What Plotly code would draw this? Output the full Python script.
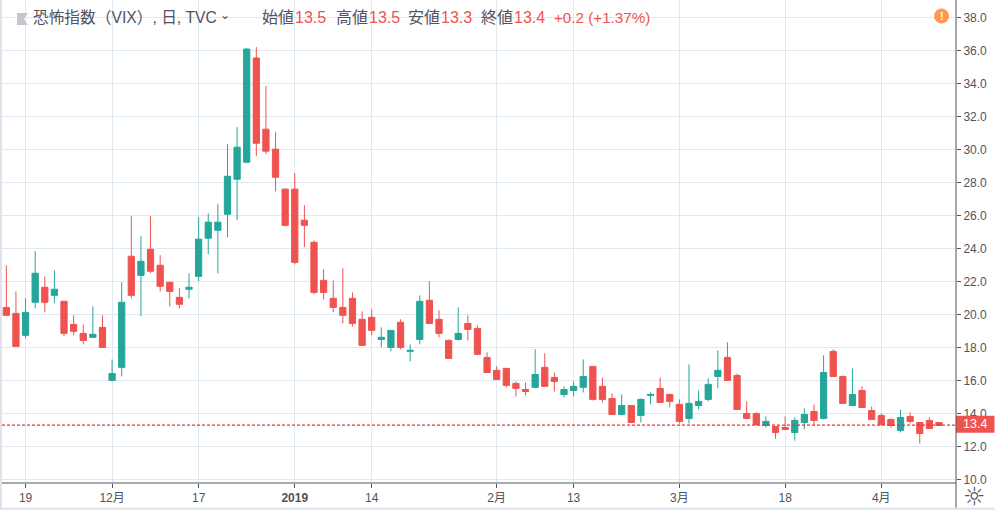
import plotly.graph_objects as go

bar_index = list(range(98))
opens = [20.44,20.08,18.75,20.75,21.66,21.17,20.81,19.41,18.87,18.63,19.23,16.02,16.81,23.54,22.38,23.96,22.99,21.96,21.05,21.54,
         22.32,24.63,25.11,26.08,28.2,29.23,35.54,31.23,30.02,27.6,27.6,25.72,24.38,22.08,20.99,20.44,20.99,19.72,19.84,18.5,
         18.02,19.54,17.78,18.5,20.87,19.72,18.44,18.5,19.47,19.17,17.41,16.63,16.75,15.84,15.47,15.6,16.81,16.2,15.17,15.41,
         15.6,16.87,15.66,14.93,13.96,14.5,13.9,15.11,15.54,15.17,14.57,13.72,14.5,14.87,16.26,17.41,16.32,14.02,14.02,13.29,
         13.23,13.17,12.87,13.47,14.14,13.72,17.78,16.26,14.5,15.41,14.2,13.9,13.66,12.99,13.84,13.47,13.6,13.47]
highs = [22.99,21.41,20.99,23.84,22.32,22.69,20.81,19.96,19.41,20.5,19.96,17.29,21.96,25.96,24.75,25.96,23.6,21.96,21.6,22.5,
         25.9,26.14,26.69,30.32,31.35,36.14,36.2,33.84,31.05,27.66,28.57,26.63,24.5,22.75,22.08,22.81,21.35,20.2,20.32,19.23,
         19.05,19.72,18.2,21.17,22.02,20.26,18.5,20.44,19.96,19.35,17.72,16.87,16.75,15.96,15.9,17.9,17.66,16.5,15.66,15.96,
         17.29,16.87,16.2,15.23,15.17,14.5,14.93,15.29,16.2,15.23,14.87,16.99,15.41,16.14,17.84,18.32,16.44,14.75,14.08,13.84,
         13.23,13.84,13.78,14.32,14.57,17.54,17.9,16.32,16.75,15.66,14.44,14.02,13.72,14.26,14.08,13.47,13.78,13.47]
lows = [19.96,18.08,18.57,20.38,20.14,20.69,18.69,18.75,18.2,18.63,18.02,15.96,16.26,20.99,19.9,22.5,21.41,20.5,20.38,20.99,
        22.02,23.66,22.5,24.69,25.72,29.17,29.6,29.72,27.47,25.35,23.05,24.08,21.23,20.93,20.14,19.47,19.29,18.14,18.75,18.02,
        17.78,17.9,17.17,18.2,19.47,18.63,17.35,18.44,18.44,17.54,16.5,16.08,15.6,15.05,15.11,15.54,15.66,15.35,14.99,15.05,
        15.29,14.81,14.69,13.96,13.9,13.47,13.47,14.57,14.69,14.38,13.41,13.41,14.26,14.75,15.54,16.02,14.26,13.66,13.29,13.17,
        12.5,13.05,12.38,13.05,13.29,13.66,16.26,14.63,14.5,14.38,13.66,13.29,13.17,12.87,13.41,12.2,13.11,13.29]
closes = [19.96,18.08,20.14,22.51,20.75,21.54,18.87,18.99,18.44,18.81,18.02,16.44,20.75,21.17,23.23,22.63,21.72,21.41,20.63,21.66,
          24.57,25.6,25.6,28.38,30.14,36.08,30.38,29.9,28.32,25.41,23.17,25.41,21.35,21.35,20.44,19.96,19.47,18.14,19.05,18.63,
          19.05,18.02,17.84,20.81,19.47,18.87,17.35,18.87,19.11,17.6,16.5,16.08,15.72,15.54,15.35,16.38,15.66,15.96,15.47,15.66,
          16.26,14.87,14.87,13.96,14.5,13.47,14.87,15.17,14.69,14.75,13.54,14.63,14.75,15.78,16.63,16.02,14.26,13.72,13.35,13.54,
          12.87,13.05,13.6,13.96,13.6,16.5,16.26,14.63,15.17,14.38,13.66,13.35,13.29,13.78,13.54,12.81,13.11,13.29]

x_tick_pos = [2, 11, 20, 30, 38, 51, 59, 70, 81, 91]
x_tick_text = ["19", "12月", "17", "<b>2019</b>", "14", "2月", "13", "3月", "18", "4月"]
y_ticks = [10, 12, 14, 16, 18, 20, 22, 24, 26, 28, 30, 32, 34, 36, 38]
last_line = 13.31
last_label = "13.4"

W, H = 995, 510
L, R, T, B = 2, 956.5, 1, 483.3
TEAL, RED, GRID, AX = "#26a69a", "#ef5350", "#e1e9f0", "#50535e"
FONT = "Liberation Sans, Noto Sans CJK JP, Arial, sans-serif"
px = lambda v: (v - L) / (R - L)
py = lambda v: 1 - (v - T) / (B - T)

fig = go.Figure(go.Candlestick(
    x=bar_index, open=opens, high=highs, low=lows, close=closes,
    whiskerwidth=0,
    increasing=dict(line=dict(color=TEAL, width=1), fillcolor=TEAL),
    decreasing=dict(line=dict(color=RED, width=1), fillcolor=RED),
    hoverinfo="skip",
))

shapes = [
    dict(type="line", xref="paper", x0=0, x1=1, yref="y", y0=last_line, y1=last_line,
         line=dict(color="#f23030", width=1.2, dash="3px,2px")),
    dict(type="rect", xref="paper", x0=1, x1=px(995), yref="paper", y0=py(433), y1=py(416),
         fillcolor=RED, line_width=0, layer="above"),
    dict(type="line", xref="paper", x0=1, x1=1, yref="paper", y0=py(509), y1=py(0),
         line=dict(color=AX, width=1), layer="above"),
    dict(type="line", xref="paper", x0=px(0), x1=1, yref="paper", y0=0, y1=0,
         line=dict(color=AX, width=1), layer="above"),
    dict(type="rect", xref="paper", x0=px(0), x1=px(2), yref="paper", y0=py(510), y1=py(0),
         fillcolor="#e0e3eb", line_width=0, layer="above"),
    dict(type="rect", xref="paper", x0=px(0), x1=px(995), yref="paper", y0=py(510), y1=py(508),
         fillcolor="#e0e3eb", line_width=0, layer="above"),
    dict(type="path", xref="paper", yref="paper", fillcolor="#c4c7d0", line_width=0, layer="above",
         path=f"M {px(17)} {py(13)} L {px(28)} {py(13)} L {px(24)} {py(19)} L {px(28)} {py(25)} L {px(17)} {py(25)} Z"),
    dict(type="circle", xref="paper", yref="paper", x0=px(934.5), x1=px(949.5), y0=py(23.5), y1=py(8.5),
         fillcolor="#ff9850", line_width=0, layer="above"),
]

annos = []
def text(x, y, s, color=AX, size=16, anchor="left", family=FONT):
    annos.append(dict(xref="paper", yref="paper", x=px(x), y=py(y), text=s, showarrow=False,
                      xanchor=anchor, yanchor="middle", font=dict(color=color, size=size, family=family),
                      borderpad=0, borderwidth=0))

text(33, 18, "恐怖指数（VIX）, 日, TVC", size=15.7)
text(220, 15, "⌄", size=12, family="DejaVu Sans")
for x, s in [(262, "始値"), (336, "高値"), (408, "安値"), (481, "終値")]:
    text(x, 18, s)
for x, s in [(295, "13.5"), (369, "13.5"), (441, "13.3"), (514, "13.4")]:
    text(x, 18, s, color=RED)
text(554, 18, "+0.2 (+1.37%)", color=RED, size=15.2)
text(942, 16, "<b>!</b>", color="white", size=11, anchor="center")
text(975.5, 424.5, last_label, color="white", size=12.5, anchor="center")
text(975, 497, "☼", size=25, anchor="center", family="DejaVu Sans")

fig.update_layout(
    width=W, height=H,
    margin=dict(l=L, r=W - R, t=T, b=H - B, autoexpand=False),
    paper_bgcolor="white", plot_bgcolor="white",
    showlegend=False, hovermode=False,
    boxgap=0.35, boxgroupgap=0,
    shapes=shapes, annotations=annos,
    xaxis=dict(
        type="linear", range=[-0.45, 98.77], rangeslider=dict(visible=False),
        tickmode="array", tickvals=x_tick_pos, ticktext=x_tick_text,
        showgrid=True, gridcolor=GRID, gridwidth=1, zeroline=False, showline=False,
        ticks="outside", ticklen=4, tickcolor=AX, tickwidth=1,
        tickfont=dict(family=FONT, size=12, color=AX), tickangle=0,
    ),
    yaxis=dict(
        side="right", range=[9.81, 38.99],
        tickmode="array", tickvals=y_ticks, ticktext=[f"{v:.1f}" for v in y_ticks],
        showgrid=True, gridcolor=GRID, gridwidth=1, zeroline=False, showline=False,
        ticks="outside", ticklen=4, tickcolor=AX, tickwidth=1,
        tickfont=dict(family=FONT, size=12, color=AX),
    ),
)
fig.write_html("out.html", config=dict(displayModeBar=False),
               post_script="document.body.style.margin='0';document.body.style.overflow='hidden';")
